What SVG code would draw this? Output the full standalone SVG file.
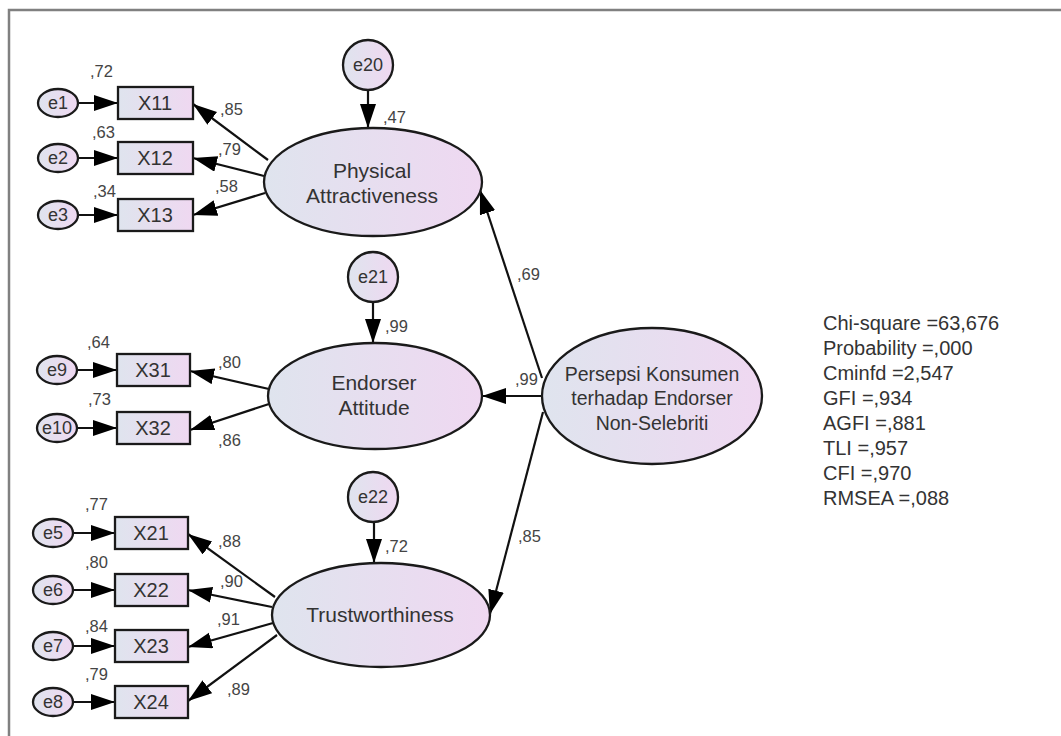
<svg xmlns="http://www.w3.org/2000/svg" width="1061" height="736" viewBox="0 0 1061 736">
  <defs>
    <linearGradient id="fillGrad" x1="0" y1="0" x2="1" y2="0">
      <stop offset="0" stop-color="#dfe4ee"/>
      <stop offset="1" stop-color="#efd8f1"/>
    </linearGradient>
    <marker id="ah" markerUnits="userSpaceOnUse" markerWidth="26" markerHeight="18" refX="24" refY="8" orient="auto">
      <path d="M0,0 L24,8 L0,16 Z" fill="#000"/>
    </marker>
  </defs>
  <style>
    .shape { fill: url(#fillGrad); stroke: #1a1a1a; stroke-width: 2.3; }
    .lbl { font-family: "Liberation Sans", Arial, sans-serif; fill: #333; text-anchor: middle; }
    .big { font-size: 21px; }
    .box { font-size: 20px; }
    .err { font-size: 18px; }
    .num { font-family: "Liberation Sans", Arial, sans-serif; font-size: 16.5px; fill: #444; }
    .stat { font-family: "Liberation Sans", Arial, sans-serif; font-size: 20px; fill: #333; }
    #connectors line { stroke: #111; stroke-width: 2.2; marker-end: url(#ah); }
  </style>

  <rect width="1061" height="736" fill="#fff"/>
  <!-- frame -->
  <rect x="9" y="10" width="1070" height="740" fill="none" stroke="#808080" stroke-width="2.5"/>

  <!-- connectors -->
  <g id="connectors">
    <line x1="78" y1="103" x2="118" y2="103"/>
    <line x1="78" y1="158" x2="118" y2="158"/>
    <line x1="78" y1="215" x2="118" y2="215"/>
    <line x1="368" y1="90" x2="368" y2="128"/>
    <line x1="268" y1="160" x2="193" y2="104"/>
    <line x1="264" y1="176" x2="193" y2="158"/>
    <line x1="265" y1="193" x2="193" y2="215"/>

    <line x1="77" y1="370" x2="117" y2="370"/>
    <line x1="77" y1="428" x2="117" y2="428"/>
    <line x1="373" y1="302" x2="373" y2="343"/>
    <line x1="269" y1="389" x2="190" y2="371"/>
    <line x1="269" y1="404" x2="190" y2="430"/>

    <line x1="73" y1="533" x2="115" y2="533"/>
    <line x1="73" y1="590" x2="115" y2="590"/>
    <line x1="73" y1="646" x2="115" y2="646"/>
    <line x1="73" y1="702" x2="115" y2="702"/>
    <line x1="374" y1="522" x2="374" y2="563"/>
    <line x1="275" y1="597" x2="188" y2="534"/>
    <line x1="272" y1="607" x2="188" y2="590"/>
    <line x1="273" y1="623" x2="188" y2="647"/>
    <line x1="277" y1="635" x2="188" y2="701"/>

    <line x1="542" y1="378" x2="480" y2="190"/>
    <line x1="543" y1="396" x2="482" y2="396"/>
    <line x1="543" y1="412" x2="490" y2="614"/>
  </g>

  <!-- Physical Attractiveness block -->
  <g id="e1"><ellipse class="shape" cx="58" cy="103" rx="20" ry="14"/><text class="lbl err" x="58" y="109">e1</text></g>
  <g id="e2"><ellipse class="shape" cx="58" cy="158" rx="20" ry="14"/><text class="lbl err" x="58" y="164">e2</text></g>
  <g id="e3"><ellipse class="shape" cx="58" cy="215" rx="20" ry="14"/><text class="lbl err" x="58" y="221">e3</text></g>
  <g id="X11"><rect class="shape" x="118" y="87" width="75" height="32"/><text class="lbl box" x="155" y="110">X11</text></g>
  <g id="X12"><rect class="shape" x="118" y="142" width="75" height="32"/><text class="lbl box" x="155" y="165">X12</text></g>
  <g id="X13"><rect class="shape" x="118" y="199" width="75" height="32"/><text class="lbl box" x="155" y="222">X13</text></g>
  <g id="e20"><circle class="shape" cx="368" cy="65" r="25"/><text class="lbl err" x="368" y="71">e20</text></g>
  <g id="physical">
    <ellipse class="shape" cx="373" cy="182" rx="109" ry="54"/>
    <text class="lbl big" x="372" y="178">Physical</text>
    <text class="lbl big" x="372" y="203">Attractiveness</text>
  </g>

  <!-- Endorser Attitude block -->
  <g id="e9"><ellipse class="shape" cx="57" cy="370" rx="20" ry="14"/><text class="lbl err" x="57" y="376">e9</text></g>
  <g id="e10"><ellipse class="shape" cx="57" cy="428" rx="20" ry="14"/><text class="lbl err" x="57" y="434">e10</text></g>
  <g id="X31"><rect class="shape" x="117" y="354" width="73" height="32"/><text class="lbl box" x="153" y="377">X31</text></g>
  <g id="X32"><rect class="shape" x="117" y="412" width="73" height="32"/><text class="lbl box" x="153" y="435">X32</text></g>
  <g id="e21"><circle class="shape" cx="373" cy="277" r="25"/><text class="lbl err" x="373" y="283">e21</text></g>
  <g id="endorser">
    <ellipse class="shape" cx="375" cy="396" rx="107" ry="53"/>
    <text class="lbl big" x="374" y="390">Endorser</text>
    <text class="lbl big" x="374" y="415">Attitude</text>
  </g>

  <!-- Trustworthiness block -->
  <g id="e5"><ellipse class="shape" cx="53" cy="533" rx="20" ry="14"/><text class="lbl err" x="53" y="539">e5</text></g>
  <g id="e6"><ellipse class="shape" cx="53" cy="590" rx="20" ry="14"/><text class="lbl err" x="53" y="596">e6</text></g>
  <g id="e7"><ellipse class="shape" cx="53" cy="646" rx="20" ry="14"/><text class="lbl err" x="53" y="652">e7</text></g>
  <g id="e8"><ellipse class="shape" cx="53" cy="702" rx="20" ry="14"/><text class="lbl err" x="53" y="708">e8</text></g>
  <g id="X21"><rect class="shape" x="115" y="517" width="73" height="32"/><text class="lbl box" x="151" y="540">X21</text></g>
  <g id="X22"><rect class="shape" x="115" y="574" width="73" height="32"/><text class="lbl box" x="151" y="597">X22</text></g>
  <g id="X23"><rect class="shape" x="115" y="630" width="73" height="32"/><text class="lbl box" x="151" y="653">X23</text></g>
  <g id="X24"><rect class="shape" x="115" y="686" width="73" height="32"/><text class="lbl box" x="151" y="709">X24</text></g>
  <g id="e22"><circle class="shape" cx="373" cy="497" r="25"/><text class="lbl err" x="373" y="503">e22</text></g>
  <g id="trust">
    <ellipse class="shape" cx="381" cy="615" rx="109" ry="52"/>
    <text class="lbl big" x="380" y="622">Trustworthiness</text>
  </g>

  <!-- second-order construct -->
  <g id="persepsi">
    <ellipse class="shape" cx="652" cy="396" rx="110" ry="68"/>
    <text class="lbl big" x="652" y="381" style="font-size:19.5px">Persepsi Konsumen</text>
    <text class="lbl big" x="652" y="405" style="font-size:19.5px">terhadap Endorser</text>
    <text class="lbl big" x="652" y="430" style="font-size:19.5px">Non-Selebriti</text>
  </g>

  <!-- estimates -->
  <g id="estimates" class="num">
    <text x="90" y="77">,72</text>
    <text x="92" y="138">,63</text>
    <text x="93" y="197">,34</text>
    <text x="220" y="115">,85</text>
    <text x="218" y="155">,79</text>
    <text x="215" y="192">,58</text>
    <text x="383" y="123">,47</text>

    <text x="87" y="348">,64</text>
    <text x="88" y="405">,73</text>
    <text x="218" y="368">,80</text>
    <text x="218" y="446">,86</text>
    <text x="385" y="332">,99</text>

    <text x="85" y="510">,77</text>
    <text x="85" y="568">,80</text>
    <text x="85" y="632">,84</text>
    <text x="85" y="680">,79</text>
    <text x="218" y="547">,88</text>
    <text x="220" y="587">,90</text>
    <text x="217" y="625">,91</text>
    <text x="227" y="695">,89</text>
    <text x="385" y="552">,72</text>

    <text x="517" y="280">,69</text>
    <text x="515" y="385">,99</text>
    <text x="518" y="542">,85</text>
  </g>

  <!-- fit statistics -->
  <g id="fit" class="stat">
    <text x="823" y="330">Chi-square =63,676</text>
    <text x="823" y="355">Probability =,000</text>
    <text x="823" y="380">Cminfd =2,547</text>
    <text x="823" y="405">GFI =,934</text>
    <text x="823" y="430">AGFI =,881</text>
    <text x="823" y="455">TLI =,957</text>
    <text x="823" y="480">CFI =,970</text>
    <text x="823" y="505">RMSEA =,088</text>
  </g>
</svg>
